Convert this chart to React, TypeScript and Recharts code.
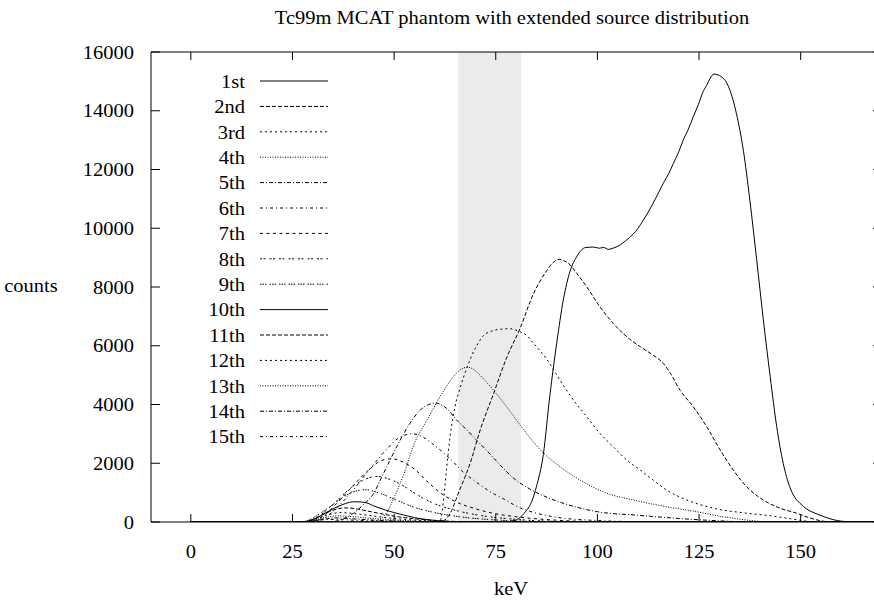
import React from 'react';
import { LineChart, Line, XAxis, YAxis, ReferenceArea, ReferenceLine } from 'recharts';

// ---------- data ----------
const chartTitle = 'Tc99m MCAT phantom with extended source distribution';
const xLabel = 'keV';
const yLabel = 'counts';
const orderLabels = ['1st', '2nd', '3rd', '4th', '5th', '6th', '7th', '8th', '9th', '10th', '11th', '12th', '13th', '14th', '15th'];
const xTicks = [0, 25, 50, 75, 100, 125, 150];
const yTicks = [0, 2000, 4000, 6000, 8000, 10000, 12000, 14000, 16000];
const energyWindow = [65.8, 81.2];

type P = [number, number];
const order1: P[] = [[0,0],[70,0],[76,0],[78,15],[80,70],[82,300],[84,750],[85,1200],[86.7,2300],[88.3,4300],[90,6100],[91.6,7550],[93.3,8550],[94.9,9030],[96,9250],[97,9340],[99,9360],[100.5,9320],[101.5,9350],[102.7,9280],[104,9330],[105.6,9430],[107,9580],[108.8,9800],[110,10000],[111.3,10280],[112.5,10550],[113.7,10850],[115,11200],[116.2,11530],[117.5,11850],[118.7,12210],[120,12600],[121.1,13000],[122.3,13350],[123.6,13800],[124.8,14200],[126,14650],[127,14900],[127.7,15100],[128.7,15250],[130,15200],[131,15100],[131.8,14950],[132.6,14700],[133.4,14350],[134.2,13900],[135.9,12650],[137.5,10950],[139.2,8900],[140.8,6900],[142.5,4950],[144.1,3250],[145.7,2000],[147.3,1200],[148.5,850],[149.8,640],[151.5,440],[153,330],[155,220],[157,120],[159,50],[161,15],[164,0],[170,0]];
const order2: P[] = [[0,0],[60,0],[62,40],[63.8,300],[66,1050],[68.7,2000],[71.1,3100],[74.4,4350],[77.7,5600],[81,6600],[84.2,7750],[87.5,8550],[89,8820],[90.6,8940],[92,8880],[93.3,8750],[95,8450],[97.4,8000],[100.6,7330],[103.9,6760],[107.2,6310],[110.5,5970],[113.7,5680],[116.2,5400],[118,5050],[120.3,4490],[123.6,3920],[126.9,3240],[130.2,2450],[133.4,1770],[136.7,1200],[140.8,750],[144.9,470],[149,300],[152,150],[155,40],[158,0],[170,0]];
const order3: P[] = [[0,0],[60,0],[61.4,60],[62.1,700],[62.9,1800],[63.8,2950],[65,3950],[66.2,4550],[67.9,5250],[70.3,6000],[72,6350],[73.6,6480],[76,6560],[78.5,6580],[80.5,6500],[82.6,6350],[84.2,6100],[87.5,5550],[90.8,4830],[94.1,4150],[97.4,3580],[100.6,3020],[103.9,2560],[107.2,2110],[110.5,1770],[113.7,1430],[117,1090],[122,750],[128.5,470],[136.7,300],[143.2,200],[148,100],[152,20],[155,0],[170,0]];
const order4: P[] = [[0,0],[44,0],[46,60],[48.2,330],[50.2,900],[52.3,1600],[55.2,2750],[57.2,3250],[59.6,3850],[62.1,4450],[64.6,4950],[66.5,5200],[68,5270],[69.5,5200],[71.1,5000],[74.4,4490],[77.7,3920],[81,3300],[86,2450],[90.8,1880],[95.7,1430],[102.3,980],[108.8,750],[117,520],[124.4,350],[130,200],[136,80],[140,20],[144,0],[170,0]];
const order5: P[] = [[0,0],[34,0],[37,80],[40,300],[42.5,600],[45,980],[46.6,1430],[49,2110],[51.5,2790],[53.9,3360],[56.4,3810],[58.5,4000],[60,4050],[61.5,4000],[62.9,3870],[65.4,3470],[67.9,3130],[70.3,2780],[73,2400],[76,1950],[79.3,1500],[83.4,1120],[88,820],[92,620],[100,350],[110,230],[120,120],[130,40],[138,0],[170,0]];
const order6: P[] = [[0,0],[30,0],[33,150],[36,500],[40,1100],[44,1800],[48,2450],[51,2850],[54.5,3000],[57,2900],[60,2600],[63.8,2150],[67,1700],[70.3,1350],[74,1000],[77,780],[81,480],[85,300],[90,160],[100,50],[110,10],[115,0],[170,0]];
const order7: P[] = [[0,0],[29,0],[30,20],[33,250],[36,650],[40,1250],[44,1800],[47,2100],[49.5,2150],[52,2050],[55,1800],[58,1400],[61.3,1000],[65,700],[70,450],[75,280],[80,180],[90,60],[100,10],[105,0],[170,0]];
const order8: P[] = [[0,0],[28,0],[29,20],[32,250],[35,600],[38,1000],[42,1400],[46,1550],[49,1450],[52,1250],[56,900],[60,620],[65,400],[70,250],[80,90],[90,20],[95,0],[170,0]];
const order9: P[] = [[0,0],[27,0],[28,20],[31,220],[34,500],[37,800],[40,1030],[43,1100],[46,1000],[50,780],[55,500],[60,320],[66,180],[75,70],[85,15],[90,0],[170,0]];
const order10: P[] = [[0,0],[26,0],[28,10],[30,80],[33,300],[35,450],[37.1,580],[39,670],[40.4,690],[42,680],[43,660],[45.3,530],[47.8,410],[50,320],[52.3,240],[55,150],[58.8,70],[62,25],[66,0],[170,0]];
const order11: P[] = [[0,0],[27,0],[28,5],[31,150],[34,350],[37,470],[38.5,480],[41,440],[45,330],[50,200],[55,110],[62,40],[70,5],[74,0],[170,0]];
const order12: P[] = [[0,0],[27,0],[28,5],[31,120],[34,260],[37,320],[40,290],[44,220],[50,120],[57,50],[65,10],[70,0],[170,0]];
const order13: P[] = [[0,0],[27,0],[28,5],[31,90],[34,180],[36,210],[39,190],[44,130],[50,70],[58,20],[64,0],[170,0]];
const order14: P[] = [[0,0],[27,0],[28,5],[31,60],[34,120],[35,140],[38,125],[43,80],[50,35],[58,10],[62,0],[170,0]];
const order15: P[] = [[0,0],[26,0],[27,5],[30,40],[33,80],[34,90],[37,80],[42,50],[50,20],[56,0],[170,0]];

const orders = [order1, order2, order3, order4, order5, order6, order7, order8, order9, order10, order11, order12, order13, order14, order15];

// ---------- styles ----------
const dashes = ['', '4 2', '2 3', '1 1.5', '4 2 1 2', '3 3 1 3', '3 3.5', '2 1.5 2 4', '1.5 1 1.5 1 1.5 3', '', '4 2', '2 3', '1 1.5', '4 2 1 2', '3 3 1 3'];
const FONT = '"Liberation Serif", "Times New Roman", serif';
const FS = 19;
const SX = 1.08;
const PLOT_TOP = 52;
const PLOT_BOTTOM = 522;
const PLOT_LEFT = 151;
const PLOT_RIGHT = 882;

function Txt({ x, y, anchor, children }: { x: number; y: number; anchor: string; children: any }) {
  return (
    <text
      transform={`translate(${x},${y}) scale(${SX},1)`}
      textAnchor={anchor as any}
      dominantBaseline="central"
      fontFamily={FONT}
      fontSize={FS}
      fill="#000"
    >
      {children}
    </text>
  );
}

const XTick = (props: any) => {
  const { x, payload } = props;
  return (
    <g>
      <line x1={x} x2={x} y1={PLOT_BOTTOM} y2={PLOT_BOTTOM - 8} stroke="#000" strokeWidth={1} />
      <line x1={x} x2={x} y1={PLOT_TOP} y2={PLOT_TOP + 8} stroke="#000" strokeWidth={1} />
      <Txt x={x} y={551} anchor="middle">{payload.value}</Txt>
    </g>
  );
};

const YTick = (props: any) => {
  const { y, payload } = props;
  return (
    <g>
      <line x1={PLOT_LEFT} x2={PLOT_LEFT + 9} y1={y} y2={y} stroke="#000" strokeWidth={1} />
      <line x1={PLOT_RIGHT} x2={PLOT_RIGHT - 9} y1={y} y2={y} stroke="#000" strokeWidth={1} />
      <Txt x={134} y={y} anchor="end">{payload.value}</Txt>
    </g>
  );
};

export default function App() {
  return (
    <div style={{ position: 'fixed', left: 0, top: 0, width: 874, height: 602, overflow: 'hidden', background: '#fff' }}>
      <LineChart width={900} height={602} margin={{ top: PLOT_TOP, right: 900 - PLOT_RIGHT, bottom: 0, left: 0 }}>
        <XAxis
          dataKey="x"
          type="number"
          domain={[-9.8, 170]}
          allowDataOverflow
          ticks={xTicks}
          interval={0}
          height={602 - PLOT_BOTTOM}
          tickSize={0}
          tickMargin={0}
          tickLine={false}
          tick={<XTick />}
          axisLine={{ stroke: '#000', strokeWidth: 1 }}
        />
        <YAxis
          type="number"
          domain={[0, 16000]}
          allowDataOverflow
          ticks={yTicks}
          interval={0}
          width={PLOT_LEFT}
          tickSize={0}
          tickMargin={0}
          tickLine={false}
          tick={<YTick />}
          axisLine={{ stroke: '#000', strokeWidth: 1 }}
        />
        <ReferenceArea x1={energyWindow[0]} x2={energyWindow[1]} y1={0} y2={16000} fill="#ebebeb" fillOpacity={1} stroke="none" />
        <ReferenceLine y={16000} stroke="#000" strokeWidth={1} />
        {orders.map((pts, i) => (
          <Line
            key={orderLabels[i]}
            name={orderLabels[i]}
            data={pts.map(([x, y]) => ({ x, y }))}
            dataKey="y"
            type="monotone"
            stroke="#000"
            strokeWidth={1}
            strokeDasharray={dashes[i] || undefined}
            dot={false}
            activeDot={false}
            isAnimationActive={false}
          />
        ))}
      </LineChart>
      <svg width={874} height={602} style={{ position: 'absolute', left: 0, top: 0, pointerEvents: 'none' }}>
        <Txt x={512} y={17} anchor="middle">{chartTitle}</Txt>
        <Txt x={31} y={285} anchor="middle">{yLabel}</Txt>
        <Txt x={511} y={588} anchor="middle">{xLabel}</Txt>
        {orderLabels.map((lab, i) => {
          const y = 81 + 25.4 * i;
          return (
            <g key={lab}>
              <Txt x={245} y={y} anchor="end">{lab}</Txt>
              <line x1={260} x2={328} y1={y} y2={y} stroke="#000" strokeWidth={1} strokeDasharray={dashes[i] || undefined} />
            </g>
          );
        })}
      </svg>
    </div>
  );
}
